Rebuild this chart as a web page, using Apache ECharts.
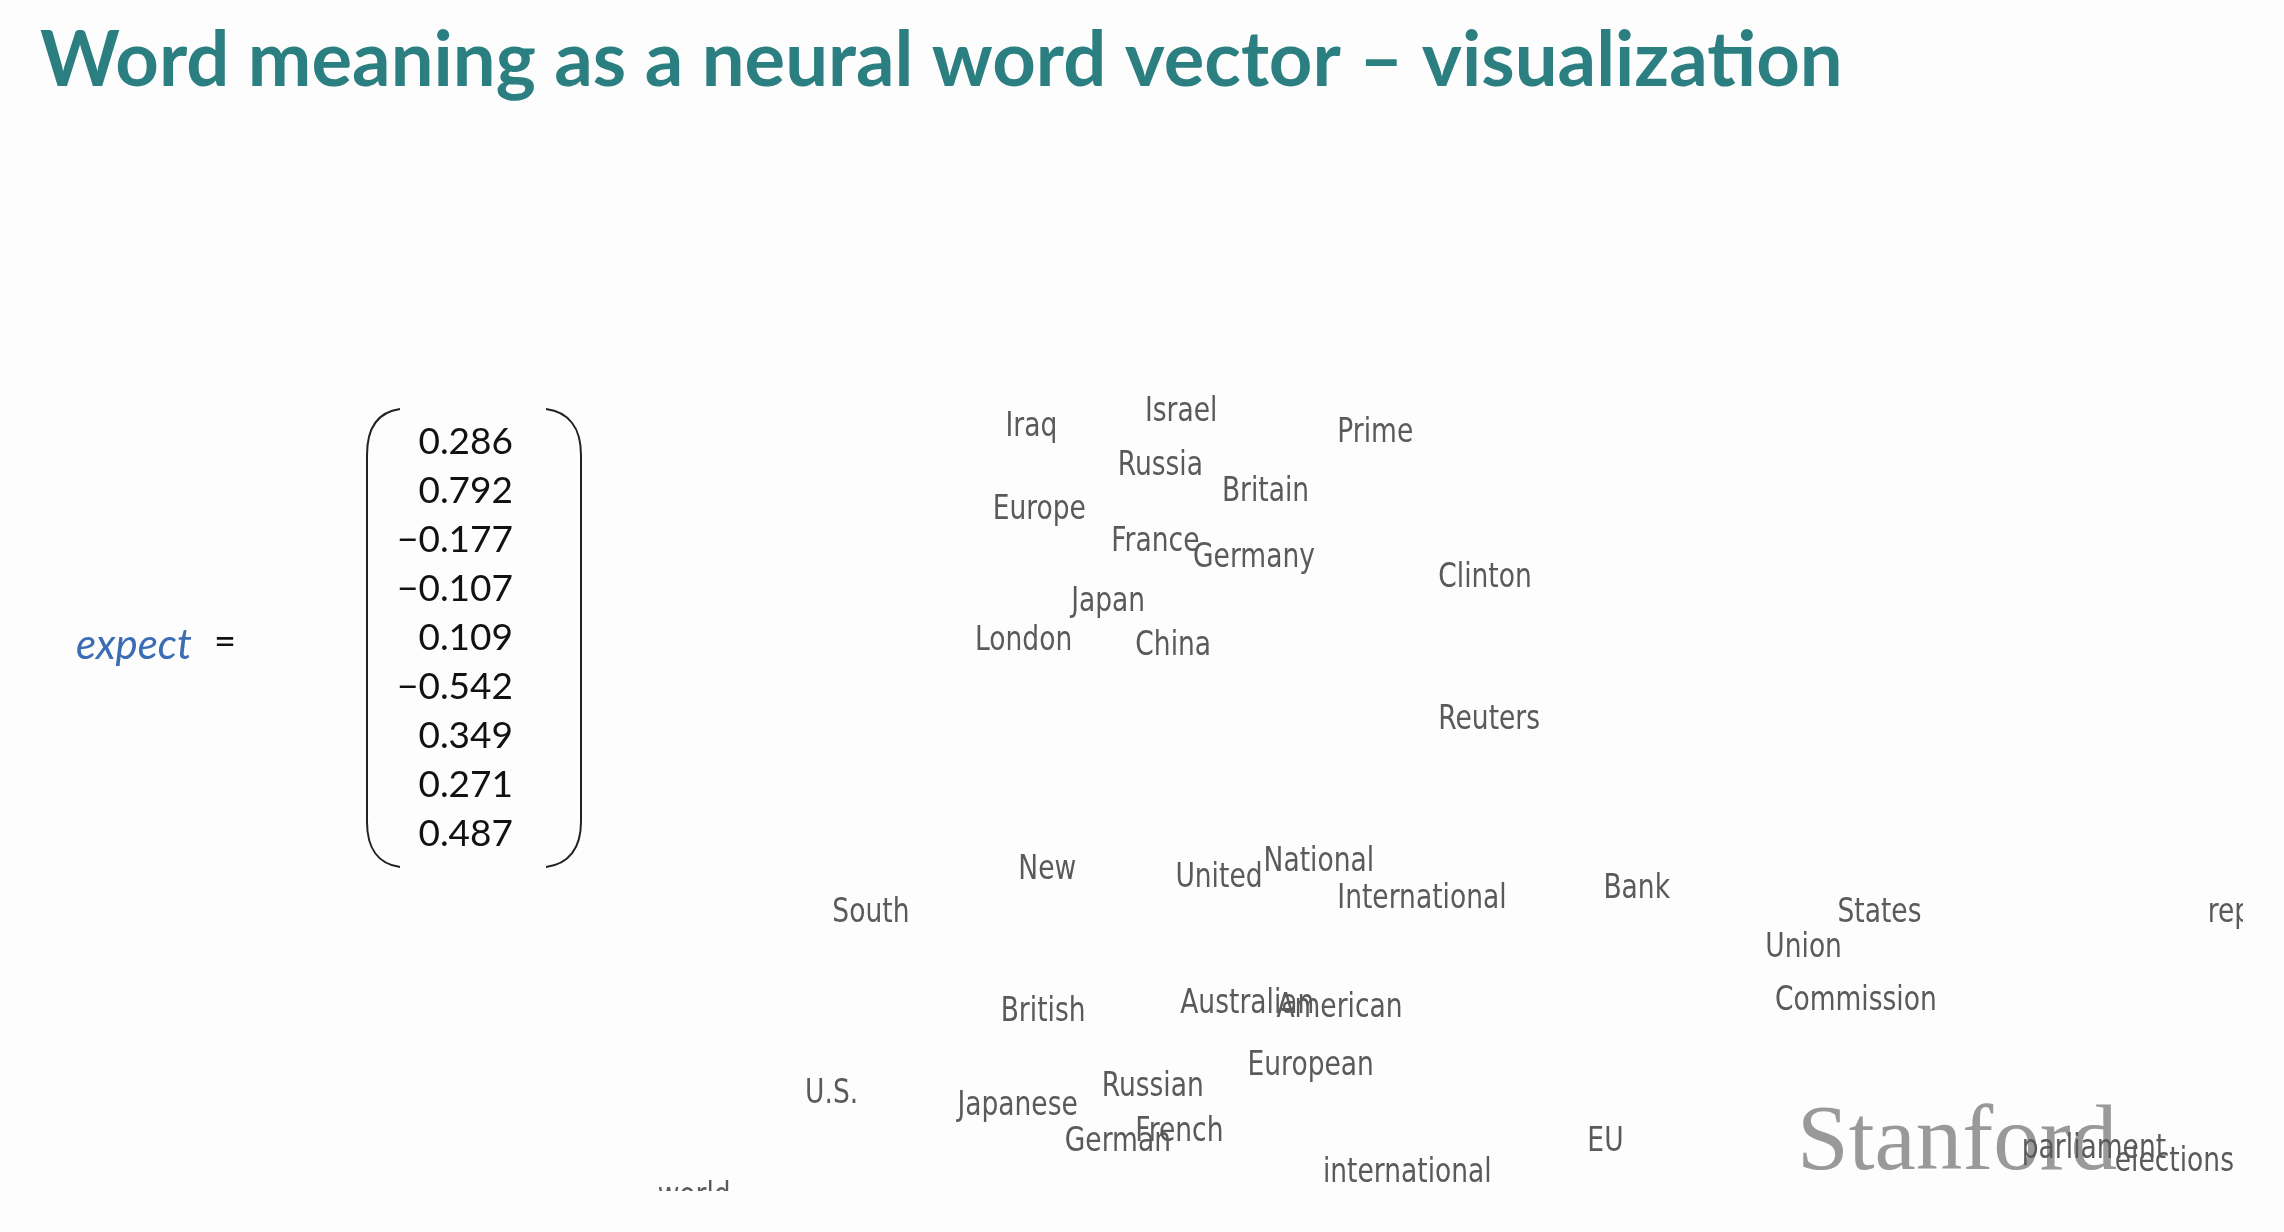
<!DOCTYPE html>
<html>
<head>
<meta charset="utf-8">
<script src="https://cdn.jsdelivr.net/npm/echarts@6/dist/echarts.min.js"></script>
<style>
html,body{margin:0;padding:0;background:#fdfdfd;}
#chart{width:2284px;height:1232px;}
</style>
</head>
<body>
<div id="chart"></div>
<script>
// ---- data ----
var titleText = 'Word meaning as a neural word vector \u2013 visualization';
var vectorWord = 'expect';
var vectorValues = [0.286, 0.792, -0.177, -0.107, 0.109, -0.542, 0.349, 0.271, 0.487];

var words = ['Iraq','Israel','Prime','Russia','Britain','Europe','France','Germany','Clinton','Japan',
  'London','China','Reuters','New','United','National','International','Bank','South','States',
  'Union','report','British','Australian','American','Commission','European','U.S.','Japanese','Russian',
  'German','French','international','EU','parliament','elections','world'];
var wordX = [22.8,31.5,43.5,29.8,36.3,22.0,29.4,34.5,49.8,26.9,
  20.9,30.9,49.8,23.6,33.4,38.9,43.5,60.1,12.0,74.7,
  70.2,97.8,22.5,33.7,39.7,70.8,37.9,10.3,19.8,28.8,
  26.5,30.9,42.6,59.1,86.2,92.0,1.1];
var wordY = [47.1,48.0,46.7,44.7,43.1,42.0,40.0,39.0,37.8,36.3,
  33.9,33.6,29.0,19.8,19.3,20.3,18.0,18.6,17.1,17.1,
  15.0,17.1,11.0,11.5,11.3,11.7,7.7,6.0,5.2,6.4,
  3.0,3.6,1.1,3.0,2.6,1.8,-0.35];

// ---- build ----
var chart = echarts.init(document.getElementById('chart'), null, {renderer:'canvas'});
var pts = words.map(function(w,i){ return [wordX[i], wordY[i]]; });

function fmt(v){ return (v < 0 ? '\u2212' : '') + Math.abs(v).toFixed(3); }

var graphics = [];
graphics.push({type:'text', x:40, y:61, style:{text:titleText, fontFamily:'Lato', fontWeight:'bold', fontSize:76, fill:'#2b7f80', align:'left', verticalAlign:'middle'}});
graphics.push({type:'text', x:76, y:645, style:{text:vectorWord, fontFamily:'Lato', fontStyle:'italic', fontSize:42, fill:'#3b6db4', align:'left', verticalAlign:'middle'}});
graphics.push({type:'text', x:214, y:643, style:{text:'=', fontFamily:'Lato', fontSize:38, fill:'#111', align:'left', verticalAlign:'middle'}});
var rowTop = 442, rowStep = 49;
vectorValues.forEach(function(v,i){
  graphics.push({type:'text', x:513, y:rowTop + i*rowStep, style:{text:fmt(v), fontFamily:'Lato', fontSize:37, fill:'#111', align:'right', verticalAlign:'middle'}});
});
// parentheses of the column vector
var pStyle = {fill:'none', stroke:'#222', lineWidth:2};
graphics.push({type:'bezierCurve', shape:{x1:400,y1:409,cpx1:378,cpy1:412,cpx2:367,cpy2:428,x2:367,y2:455}, style:pStyle});
graphics.push({type:'line', shape:{x1:367,y1:455,x2:367,y2:822}, style:pStyle});
graphics.push({type:'bezierCurve', shape:{x1:367,y1:822,cpx1:367,cpy1:848,cpx2:378,cpy2:864,x2:400,y2:867}, style:pStyle});
graphics.push({type:'bezierCurve', shape:{x1:546,y1:409,cpx1:569,cpy1:412,cpx2:581,cpy2:428,x2:581,y2:455}, style:pStyle});
graphics.push({type:'line', shape:{x1:581,y1:455,x2:581,y2:822}, style:pStyle});
graphics.push({type:'bezierCurve', shape:{x1:581,y1:822,cpx1:581,cpy1:848,cpx2:569,cpy2:864,x2:546,y2:867}, style:pStyle});
graphics.push({type:'text', x:1797, y:1145, z:-1, style:{text:'Stanford', fontFamily:'Liberation Serif', fontSize:93, fill:'#999999', align:'left', verticalAlign:'middle'}});

chart.setOption({
  backgroundColor:'#fdfdfd',
  animation:false,
  grid:{left:640, right:41, top:380, bottom:41},
  xAxis:{type:'value', min:0, max:100, show:false},
  yAxis:{type:'value', min:0, max:50, show:false},
  graphic:graphics,
  series:[{
    type:'custom',
    clip:true,
    z:5,
    data:pts,
    renderItem:function(params, api){
      var p = api.coord([api.value(0), api.value(1)]);
      return {type:'text', x:p[0], y:p[1], scaleX:0.78,
        style:{text:words[params.dataIndex], fontFamily:'DejaVu Sans', fontSize:34, fill:'#5a5a5a', align:'left', verticalAlign:'middle'}};
    }
  }]
});
</script>
</body>
</html>
